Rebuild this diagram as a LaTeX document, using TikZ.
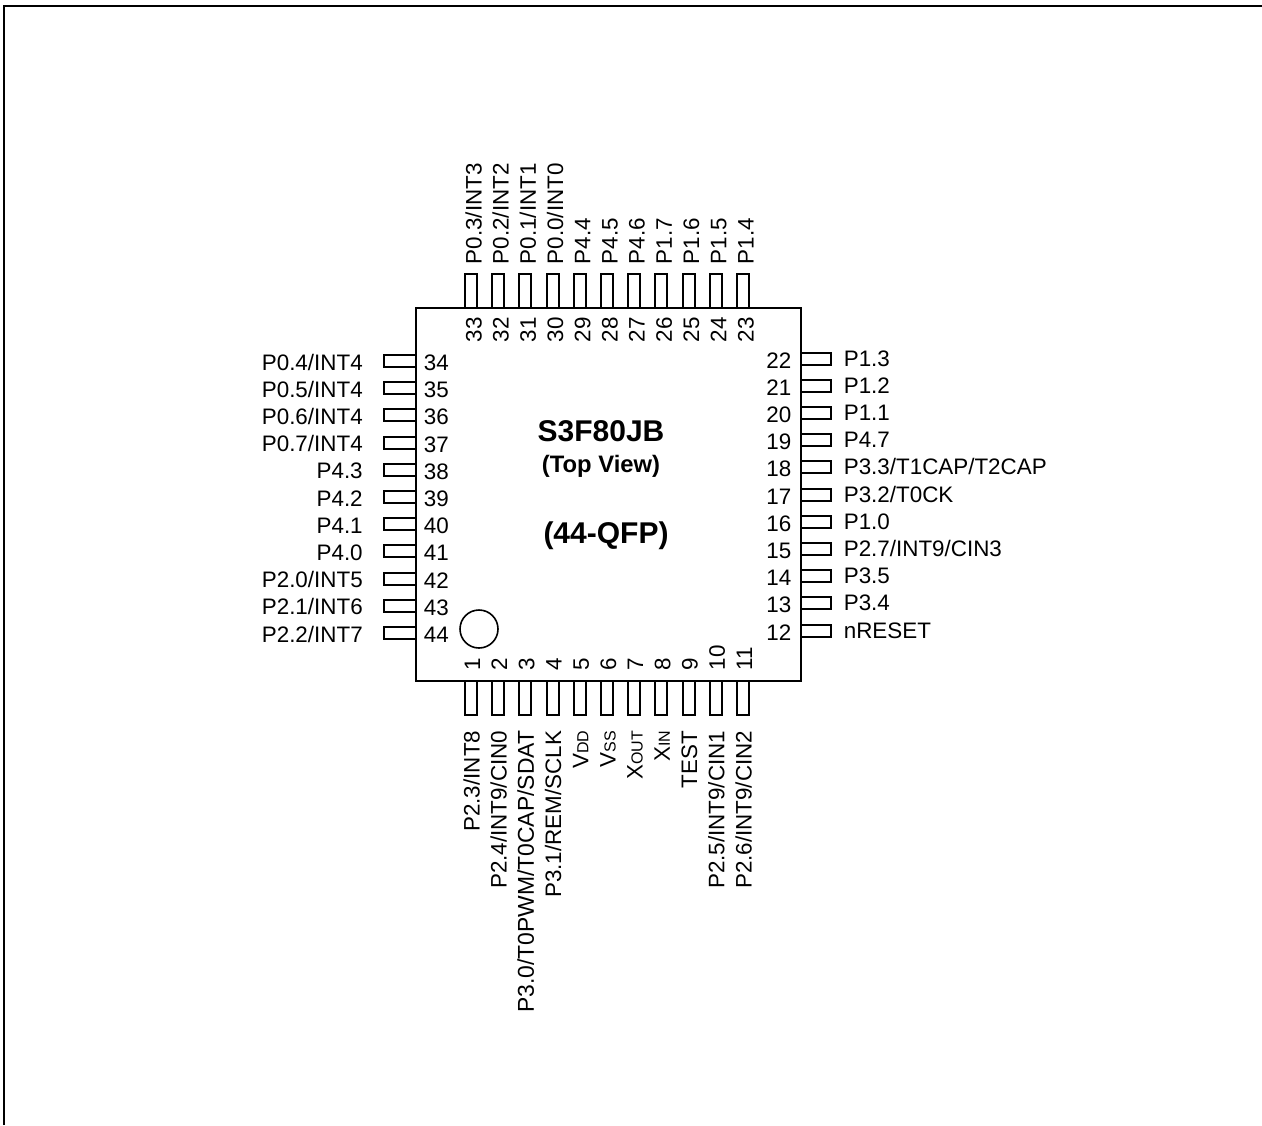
\documentclass[tikz,border=0pt]{standalone}
\usepackage{fontspec}
\setmainfont{Liberation Sans}
\usepackage{tikz}
\newcommand{\subtxt}[1]{{\fontsize{8}{10}\selectfont #1}}
\tikzset{
	chipline/.style={line width=0.8pt},
	pinline/.style={line width=0.8pt},
	pintxt/.style={inner sep=0pt,font=\fontsize{11.2}{14}\selectfont},
	leftname/.style={pintxt,anchor=base east},
	rightname/.style={pintxt,anchor=base west},
	upname/.style={pintxt,rotate=90,anchor=base west},
	downname/.style={pintxt,rotate=90,anchor=base east},
	titletxt/.style={inner sep=0pt,font=\fontsize{15}{18}\selectfont\bfseries},
}
\begin{document}
\begin{tikzpicture}[x=0.5pt,y=-0.5pt]
			\useasboundingbox (0,0) rectangle (1262,1125);
			\draw[line width=1pt] (4,1125)--(4,5.5)--(1262,5.5);
			\draw[chipline] (416,308)rectangle(801,681);
			\draw[chipline] (479,629)circle(19);
			\node[titletxt] (chipname) at (601,431){S3F80JB};
			\node[titletxt,font=\fontsize{11.9}{14}\selectfont\bfseries] (topview) at (601,466.5){(Top View)};
			\node[titletxt] (package) at (606,535.5){(44-QFP)};
			% left side
			\draw[pinline] (384,355)rectangle(416,367) (363.5,370)node[leftname](name34){P0.4/INT4} (423,370.5)node[rightname](num34){34};
			\draw[pinline] (384,382)rectangle(416,394) (363.5,397.2)node[leftname](name35){P0.5/INT4} (423,397.7)node[rightname](num35){35};
			\draw[pinline] (384,409)rectangle(416,421) (363.5,424.4)node[leftname](name36){P0.6/INT4} (423,424.9)node[rightname](num36){36};
			\draw[pinline] (384,437)rectangle(416,449) (363.5,451.6)node[leftname](name37){P0.7/INT4} (423,452.1)node[rightname](num37){37};
			\draw[pinline] (384,464)rectangle(416,476) (363.5,478.8)node[leftname](name38){P4.3} (423,479.3)node[rightname](num38){38};
			\draw[pinline] (384,491)rectangle(416,503) (363.5,506)node[leftname](name39){P4.2} (423,506.5)node[rightname](num39){39};
			\draw[pinline] (384,518)rectangle(416,530) (363.5,533.2)node[leftname](name40){P4.1} (423,533.7)node[rightname](num40){40};
			\draw[pinline] (384,545)rectangle(416,557) (363.5,560.4)node[leftname](name41){P4.0} (423,560.9)node[rightname](num41){41};
			\draw[pinline] (384,573)rectangle(416,585) (363.5,587.6)node[leftname](name42){P2.0/INT5} (423,588.1)node[rightname](num42){42};
			\draw[pinline] (384,600)rectangle(416,612) (363.5,614.8)node[leftname](name43){P2.1/INT6} (423,615.3)node[rightname](num43){43};
			\draw[pinline] (384,627)rectangle(416,639) (363.5,642)node[leftname](name44){P2.2/INT7} (423,642.5)node[rightname](num44){44};
			% right side
			\draw[pinline] (801,353)rectangle(831,365) (843,366)node[rightname](name22){P1.3} (792,368)node[leftname](num22){22};
			\draw[pinline] (801,380)rectangle(831,392) (843,393.2)node[rightname](name21){P1.2} (792,395.2)node[leftname](num21){21};
			\draw[pinline] (801,407)rectangle(831,419) (843,420.4)node[rightname](name20){P1.1} (792,422.4)node[leftname](num20){20};
			\draw[pinline] (801,434)rectangle(831,446) (843,447.6)node[rightname](name19){P4.7} (792,449.6)node[leftname](num19){19};
			\draw[pinline] (801,461)rectangle(831,473) (843,474.8)node[rightname](name18){P3.3/T1CAP/T2CAP} (792,476.8)node[leftname](num18){18};
			\draw[pinline] (801,489)rectangle(831,501) (843,502)node[rightname](name17){P3.2/T0CK} (792,504)node[leftname](num17){17};
			\draw[pinline] (801,516)rectangle(831,528) (843,529.2)node[rightname](name16){P1.0} (792,531.2)node[leftname](num16){16};
			\draw[pinline] (801,543)rectangle(831,555) (843,556.4)node[rightname](name15){P2.7/INT9/CIN3} (792,558.4)node[leftname](num15){15};
			\draw[pinline] (801,570)rectangle(831,582) (843,583.6)node[rightname](name14){P3.5} (792,585.6)node[leftname](num14){14};
			\draw[pinline] (801,597)rectangle(831,609) (843,610.8)node[rightname](name13){P3.4} (792,612.8)node[leftname](num13){13};
			\draw[pinline] (801,625)rectangle(831,637) (843,638)node[rightname](name12){nRESET} (792,640)node[leftname](num12){12};
			% top side
			\draw[pinline] (465,274)rectangle(477,308) (481.5,265)node[upname](name33){P0.3/INT3} (481.5,343)node[upname](num33){33};
			\draw[pinline] (492,274)rectangle(504,308) (508.7,265)node[upname](name32){P0.2/INT2} (508.7,343)node[upname](num32){32};
			\draw[pinline] (519,274)rectangle(531,308) (535.9,265)node[upname](name31){P0.1/INT1} (535.9,343)node[upname](num31){31};
			\draw[pinline] (547,274)rectangle(559,308) (563.1,265)node[upname](name30){P0.0/INT0} (563.1,343)node[upname](num30){30};
			\draw[pinline] (574,274)rectangle(586,308) (590.3,265)node[upname](name29){P4.4} (590.3,343)node[upname](num29){29};
			\draw[pinline] (601,274)rectangle(613,308) (617.5,265)node[upname](name28){P4.5} (617.5,343)node[upname](num28){28};
			\draw[pinline] (628,274)rectangle(640,308) (644.7,265)node[upname](name27){P4.6} (644.7,343)node[upname](num27){27};
			\draw[pinline] (655,274)rectangle(667,308) (671.9,265)node[upname](name26){P1.7} (671.9,343)node[upname](num26){26};
			\draw[pinline] (683,274)rectangle(695,308) (699.1,265)node[upname](name25){P1.6} (699.1,343)node[upname](num25){25};
			\draw[pinline] (710,274)rectangle(722,308) (726.3,265)node[upname](name24){P1.5} (726.3,343)node[upname](num24){24};
			\draw[pinline] (737,274)rectangle(749,308) (753.5,265)node[upname](name23){P1.4} (753.5,343)node[upname](num23){23};
			% bottom side
			\draw[pinline] (465,681)rectangle(477,715) (479.5,730)node[downname](name1){P2.3/INT8} (480,671)node[upname](num1){1};
			\draw[pinline] (492,681)rectangle(504,715) (506.7,730)node[downname](name2){P2.4/INT9/CIN0} (507.2,671)node[upname](num2){2};
			\draw[pinline] (519,681)rectangle(531,715) (533.9,730)node[downname,font=\fontsize{11.45}{14}\selectfont](name3){P3.0/T0PWM/T0CAP/SDAT} (534.4,671)node[upname](num3){3};
			\draw[pinline] (547,681)rectangle(559,715) (561.1,730)node[downname](name4){P3.1/REM/SCLK} (561.6,671)node[upname](num4){4};
			\draw[pinline] (574,681)rectangle(586,715) (588.3,730)node[downname](name5){V\subtxt{DD}} (588.8,671)node[upname](num5){5};
			\draw[pinline] (601,681)rectangle(613,715) (615.5,730)node[downname](name6){V\subtxt{SS}} (616,671)node[upname](num6){6};
			\draw[pinline] (628,681)rectangle(640,715) (642.7,730)node[downname](name7){X\subtxt{OUT}} (643.2,671)node[upname](num7){7};
			\draw[pinline] (655,681)rectangle(667,715) (669.9,730)node[downname](name8){X\subtxt{IN}} (670.4,671)node[upname](num8){8};
			\draw[pinline] (683,681)rectangle(695,715) (697.1,730)node[downname](name9){TEST} (697.6,671)node[upname](num9){9};
			\draw[pinline] (710,681)rectangle(722,715) (724.3,730)node[downname](name10){P2.5/INT9/CIN1} (724.8,671)node[upname](num10){10};
			\draw[pinline] (737,681)rectangle(749,715) (751.5,730)node[downname](name11){P2.6/INT9/CIN2} (752,671)node[upname](num11){11};
		\end{tikzpicture}
\end{document}
